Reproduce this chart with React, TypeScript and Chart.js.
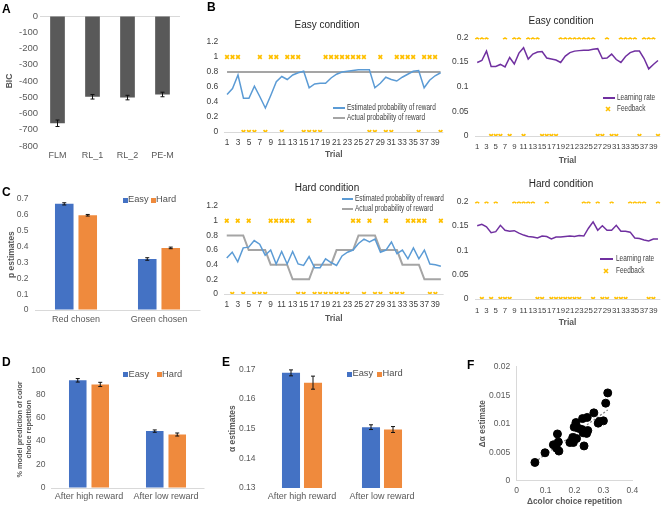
import React, { useEffect, useRef } from "react";
import { Chart, registerables } from "chart.js";
Chart.register(...registerables);

// ---------------- DATA ----------------
const bicModels = ["FLM", "RL_1", "RL_2", "PE-M"];
const bicValues = [-660, -497, -502, -483];
const bicErrors = [20, 14, 14, 14];

const choiceLabels = ["Red chosen", "Green chosen"];
const pEasy = [0.67, 0.322];
const pEasyErr = [0.007, 0.008];
const pHard = [0.598, 0.392];
const pHardErr = [0.005, 0.005];

const rewardLabels = ["After high reward", "After low reward"];
const repEasy = [91.8, 48.5];
const repEasyErr = [1.5, 1.0];
const repHard = [88.3, 45.6];
const repHardErr = [1.8, 1.3];

const alphaEasy = [0.1688, 0.1505];
const alphaEasyErr = [0.001, 0.0008];
const alphaHard = [0.1655, 0.1497];
const alphaHardErr = [0.0022, 0.001];

const trialLabels = ["1","2","3","4","5","6","7","8","9","10","11","12","13","14","15","16","17","18","19","20",
  "21","22","23","24","25","26","27","28","29","30","31","32","33","34","35","36","37","38","39","40"];

const estEasy = [0.50,0.58,0.76,0.45,0.45,0.61,0.47,0.32,0.49,0.67,0.74,0.70,0.76,0.79,0.81,0.59,0.64,0.65,0.65,0.72,
  0.77,0.80,0.81,0.82,0.83,0.83,0.83,0.59,0.65,0.73,0.70,0.68,0.73,0.77,0.81,0.82,0.59,0.69,0.75,0.79];
const actualEasy = [0.8,0.8,0.8,0.8,0.8,0.8,0.8,0.8,0.8,0.8,0.8,0.8,0.8,0.8,0.8,0.8,0.8,0.8,0.8,0.8,
  0.8,0.8,0.8,0.8,0.8,0.8,0.8,0.8,0.8,0.8,0.8,0.8,0.8,0.8,0.8,0.8,0.8,0.8,0.8,0.8];
const feedbackEasy = [1,1,1,0,0,0,1,0,1,1,0,1,1,1,0,0,0,0,1,1,1,1,1,1,1,1,0,0,1,0,0,1,1,1,1,0,1,1,1,0];
const lrEasy = [0.149,0.153,0.172,0.141,0.141,0.145,0.140,0.159,0.146,0.168,0.179,0.156,0.166,0.170,0.171,0.158,0.156,0.154,0.149,0.162,
  0.169,0.172,0.173,0.174,0.174,0.176,0.177,0.157,0.158,0.166,0.155,0.149,0.161,0.169,0.172,0.172,0.157,0.136,0.145,0.153];

const estHard = [0.49,0.57,0.44,0.63,0.64,0.73,0.68,0.53,0.60,0.41,0.58,0.41,0.58,0.41,0.39,0.51,0.36,0.36,0.48,0.43,
  0.39,0.52,0.57,0.60,0.69,0.75,0.71,0.75,0.57,0.60,0.71,0.55,0.60,0.48,0.63,0.48,0.60,0.41,0.40,0.38];
const actualHard = [0.8,0.8,0.8,0.8,0.6,0.6,0.6,0.6,0.4,0.4,0.4,0.4,0.2,0.2,0.2,0.2,0.4,0.4,0.4,0.4,
  0.6,0.6,0.6,0.6,0.8,0.8,0.8,0.8,0.6,0.6,0.6,0.6,0.4,0.4,0.4,0.4,0.2,0.2,0.2,0.2];
const feedbackHard = [1,0,1,0,1,0,0,0,1,1,1,1,1,0,0,1,0,0,0,0,0,0,0,1,1,0,1,0,0,1,0,0,0,1,1,1,1,0,0,1];
const lrHard = [0.150,0.153,0.148,0.136,0.138,0.151,0.141,0.139,0.140,0.135,0.131,0.128,0.127,0.125,0.129,0.128,0.123,0.127,0.127,0.128,
  0.129,0.128,0.130,0.129,0.145,0.158,0.141,0.150,0.141,0.141,0.151,0.139,0.139,0.137,0.125,0.124,0.121,0.119,0.123,0.123];

const deltaRep = [0.063,0.098,0.127,0.138,0.141,0.144,0.146,0.184,0.194,0.196,0.199,0.205,0.207,0.213,0.225,0.228,0.230,0.233,0.242,0.246,0.244,0.267,0.282,0.286,0.300,0.308,0.315];
const deltaAlpha = [0.0032,0.0049,0.0063,0.0057,0.0082,0.0068,0.0052,0.0067,0.0076,0.0067,0.0094,0.0102,0.0074,0.0092,0.0090,0.0109,0.0084,0.0061,0.0083,0.0088,0.0111,0.0119,0.0101,0.0104,0.0105,0.0136,0.0154];

// ---------------- STYLE ----------------
const FAM = "'Liberation Sans', Arial, sans-serif";
const GRAY_TXT = "#595959";
const DARK_TXT = "#404040";
const BLUE_BAR = "#4472C4";
const ORANGE_BAR = "#EF8A3D";
const BLUE_LINE = "#5B9BD5";
const GRAY_LINE = "#A5A5A5";
const PURPLE = "#7030A0";
const GOLD = "#FFC000";
const AXIS_LINE = "#D9D9D9";

Chart.defaults.font.family = FAM;
Chart.defaults.color = GRAY_TXT;

const fmt = (v: any) => String(+Number(v).toFixed(4));
const zeroGrid = (c: any) => (c.tick && c.tick.value === 0 ? AXIS_LINE : "rgba(0,0,0,0)");

const errorBarPlugin = {
  id: "errorBars",
  afterDatasetsDraw(chart: any) {
    const ctx = chart.ctx;
    chart.data.datasets.forEach((ds: any, di: number) => {
      if (!ds.errors) return;
      const meta = chart.getDatasetMeta(di);
      const yScale = chart.scales[meta.yAxisID];
      ctx.save();
      ctx.strokeStyle = "#111";
      ctx.lineWidth = 1;
      meta.data.forEach((el: any, i: number) => {
        const v = ds.data[i];
        const e = ds.errors[i];
        const y1 = yScale.getPixelForValue(v + e);
        const y2 = yScale.getPixelForValue(v - e);
        const x = el.x;
        ctx.beginPath();
        ctx.moveTo(x, y1); ctx.lineTo(x, y2);
        ctx.moveTo(x - 2, y1); ctx.lineTo(x + 2, y1);
        ctx.moveTo(x - 2, y2); ctx.lineTo(x + 2, y2);
        ctx.stroke();
      });
      ctx.restore();
    });
  },
};

type Plot = { l: number; t: number; r: number; b: number };

function baseOptions(w: number, h: number, p: Plot) {
  return {
    responsive: false,
    animation: false as const,
    layout: { padding: { left: 0, top: p.t, right: w - p.r, bottom: 0 } },
    plugins: { legend: { display: false }, tooltip: { enabled: false }, title: { display: false } },
  };
}

function barChart(w: number, h: number, p: Plot, labels: string[], datasets: any[], y: any, xFont: number, xPad: number) {
  return {
    type: "bar",
    data: { labels, datasets },
    options: {
      ...baseOptions(w, h, p),
      scales: {
        x: {
          grid: { display: false, drawTicks: false },
          border: { display: false },
          ticks: { font: { size: xFont }, color: GRAY_TXT, padding: xPad, maxRotation: 0, autoSkip: false },
          afterFit: (s: any) => { s.height = h - p.b; },
        },
        y: {
          ...y,
          grid: { drawTicks: false, color: zeroGrid },
          border: { display: false },
          afterFit: (s: any) => { s.width = p.l; },
        },
      },
    },
    plugins: [errorBarPlugin],
  };
}

function trialChart(w: number, h: number, p: Plot, yMax: number, yStep: number, yPad: number,
  lines: any[], fb: number[], fbLevel: number, xPad: number, titlePad: number, xFont: number) {
  const datasets = [
    {
      data: fb.map((f) => f * fbLevel),
      showLine: false,
      pointStyle: "crossRot",
      pointRadius: 2.6,
      pointBorderWidth: 1.7,
      pointBorderColor: GOLD,
      pointBackgroundColor: GOLD,
      borderColor: GOLD,
      order: 0,
    },
    ...lines.map((l, i) => ({
      data: l.data,
      borderColor: l.color,
      borderWidth: l.width,
      pointRadius: 0,
      tension: 0,
      fill: false,
      order: i + 1,
    })),
  ];
  return {
    type: "line",
    data: { labels: trialLabels, datasets },
    options: {
      ...baseOptions(w, h, p),
      scales: {
        x: {
          offset: true,
          grid: { display: false, drawTicks: false },
          border: { display: false },
          ticks: {
            font: { size: xFont }, color: DARK_TXT, padding: xPad, maxRotation: 0, minRotation: 0, autoSkip: false,
            callback: function (this: any, v: any, i: number) { return i % 2 === 0 ? trialLabels[i] : ""; },
          },
          title: { display: true, text: "Trial", font: { size: 8.5, weight: "bold" }, color: GRAY_TXT, padding: { top: 0, bottom: titlePad } },
          afterFit: (s: any) => { s.height = h - p.b; },
        },
        y: {
          min: 0, max: yMax,
          ticks: { stepSize: yStep, font: { size: 8.5 }, color: DARK_TXT, padding: yPad, callback: fmt },
          grid: { drawTicks: false, color: zeroGrid },
          border: { display: false },
          afterFit: (s: any) => { s.width = p.l; },
        },
      },
    },
  };
}

function linReg(xs: number[], ys: number[]) {
  const n = xs.length;
  const mx = xs.reduce((a, b) => a + b, 0) / n;
  const my = ys.reduce((a, b) => a + b, 0) / n;
  let sxy = 0, sxx = 0;
  for (let i = 0; i < n; i++) { sxy += (xs[i] - mx) * (ys[i] - my); sxx += (xs[i] - mx) ** 2; }
  const slope = sxy / sxx;
  return { slope, intercept: my - slope * mx };
}

// ---------------- CONFIGS ----------------
const configs: { x: number; y: number; w: number; h: number; make: () => any }[] = [
  // A
  {
    x: 0, y: 0, w: 190, h: 170,
    make: () => barChart(190, 170, { l: 40, t: 16, r: 180, b: 146 }, bicModels,
      [{ data: bicValues, errors: bicErrors, backgroundColor: "#595959", barPercentage: 0.42, categoryPercentage: 1 }],
      {
        min: -800, max: 0,
        ticks: { stepSize: 100, font: { size: 9.5 }, color: GRAY_TXT, padding: 2, callback: fmt },
        title: { display: true, text: "BIC", font: { size: 8.5, weight: "bold" }, color: GRAY_TXT, padding: { top: 5, bottom: 0 } },
      }, 9, 4),
  },
  // C
  {
    x: 0, y: 188, w: 205, h: 145,
    make: () => barChart(205, 145, { l: 34.5, t: 8, r: 200.5, b: 122 }, choiceLabels,
      [
        { label: "Easy", data: pEasy, errors: pEasyErr, backgroundColor: BLUE_BAR, barPercentage: 0.79, categoryPercentage: 0.566 },
        { label: "Hard", data: pHard, errors: pHardErr, backgroundColor: ORANGE_BAR, barPercentage: 0.79, categoryPercentage: 0.566 },
      ],
      {
        min: 0, max: 0.7,
        ticks: { stepSize: 0.1, font: { size: 8.5 }, color: GRAY_TXT, padding: 6, callback: fmt },
        title: { display: true, text: "p estimates", font: { size: 8.5, weight: "bold" }, color: GRAY_TXT, padding: { top: 7, bottom: 0 } },
      }, 9, 4.6),
  },
  // D
  {
    x: 0, y: 340, w: 210, h: 169,
    make: () => barChart(210, 169, { l: 50.5, t: 30.7, r: 204.5, b: 148 }, rewardLabels,
      [
        { label: "Easy", data: repEasy, errors: repEasyErr, backgroundColor: BLUE_BAR, barPercentage: 0.78, categoryPercentage: 0.584 },
        { label: "Hard", data: repHard, errors: repHardErr, backgroundColor: ORANGE_BAR, barPercentage: 0.78, categoryPercentage: 0.584 },
      ],
      {
        min: 0, max: 100,
        ticks: { stepSize: 10, font: { size: 8.5 }, color: GRAY_TXT, padding: 5, callback: fmt },
        title: {
          display: true, text: ["% model prediction of color", "choice repetition"],
          font: { size: 7.3, weight: "bold" }, color: GRAY_TXT, padding: { top: 15.5, bottom: 0 },
        },
      }, 9, 3.6),
  },
  // E
  {
    x: 220, y: 340, w: 210, h: 169,
    make: () => barChart(210, 169, { l: 42, t: 29.3, r: 202, b: 148 }, rewardLabels,
      [
        { label: "Easy", data: alphaEasy, errors: alphaEasyErr, backgroundColor: BLUE_BAR, barPercentage: 0.82, categoryPercentage: 0.55 },
        { label: "Hard", data: alphaHard, errors: alphaHardErr, backgroundColor: ORANGE_BAR, barPercentage: 0.82, categoryPercentage: 0.55 },
      ],
      {
        min: 0.13, max: 0.17,
        ticks: { stepSize: 0.01, font: { size: 8.5 }, color: GRAY_TXT, padding: 6.5, callback: (v: any) => Number(v).toFixed(2) },
        title: { display: true, text: "α estimates", font: { size: 8.5, weight: "bold" }, color: GRAY_TXT, padding: { top: 8, bottom: 0 } },
      }, 9, 3.6),
  },
  // F
  {
    x: 440, y: 340, w: 226, h: 169,
    make: () => {
      const w = 226, h = 169, p = { l: 76.7, t: 26.7, r: 192.3, b: 140.7 };
      const { slope, intercept } = linReg(deltaRep, deltaAlpha);
      const xmin = Math.min(...deltaRep), xmax = Math.max(...deltaRep);
      return {
        type: "scatter",
        data: {
          datasets: [
            {
              data: deltaRep.map((x, i) => ({ x, y: deltaAlpha[i] })),
              pointRadius: 4, backgroundColor: "#000", borderColor: "#000", order: 0,
            },
            {
              type: "line",
              data: [{ x: xmin, y: intercept + slope * xmin }, { x: xmax, y: intercept + slope * xmax }],
              borderColor: "#7F7F7F", borderWidth: 1.2, borderDash: [2, 2], pointRadius: 0, showLine: true, order: 1,
            },
          ],
        },
        options: {
          ...baseOptions(w, h, p),
          scales: {
            x: {
              type: "linear", min: 0, max: 0.4,
              ticks: { stepSize: 0.1, font: { size: 8.5 }, color: GRAY_TXT, padding: 5, callback: fmt },
              grid: { drawTicks: false, color: "rgba(0,0,0,0)" },
              border: { display: true, color: AXIS_LINE, width: 1 },
              title: { display: true, text: "Δcolor choice repetition", font: { size: 8.3, weight: "bold" }, color: GRAY_TXT, padding: { top: 0, bottom: 2 } },
              afterFit: (s: any) => { s.height = h - p.b; },
            },
            y: {
              min: 0, max: 0.02,
              ticks: { stepSize: 0.005, font: { size: 8.5 }, color: GRAY_TXT, padding: 6.5, callback: fmt },
              grid: { drawTicks: false, color: "rgba(0,0,0,0)" },
              border: { display: true, color: AXIS_LINE, width: 1 },
              title: { display: true, text: "Δα estimate", font: { size: 8.3, weight: "bold" }, color: GRAY_TXT, padding: { top: 38, bottom: 0 } },
              afterFit: (s: any) => { s.width = p.l; },
            },
          },
        },
      };
    },
  },
  // B easy left
  {
    x: 195, y: 30, w: 255, h: 135,
    make: () => trialChart(255, 135, { l: 29.3, t: 12, r: 248.3, b: 102 }, 1.2, 0.2, 6,
      [{ data: estEasy, color: BLUE_LINE, width: 1.5 }, { data: actualEasy, color: GRAY_LINE, width: 2 }],
      feedbackEasy, 1, 5.9, 4.9, 8.3),
  },
  // B easy right
  {
    x: 440, y: 25, w: 226, h: 145,
    make: () => trialChart(226, 145, { l: 34.9, t: 12.3, r: 223.8, b: 111 }, 0.2, 0.05, 6.3,
      [{ data: lrEasy, color: PURPLE, width: 1.5 }],
      feedbackEasy, 0.2, 6.2, 3.9, 7.8),
  },
  // B hard left
  {
    x: 195, y: 195, w: 255, h: 135,
    make: () => trialChart(255, 135, { l: 29, t: 9.3, r: 248.6, b: 99 }, 1.2, 0.2, 6,
      [{ data: estHard, color: BLUE_LINE, width: 1.5 }, { data: actualHard, color: GRAY_LINE, width: 2 }],
      feedbackHard, 1, 5.9, 5.9, 8.3),
  },
  // B hard right
  {
    x: 440, y: 190, w: 226, h: 140,
    make: () => trialChart(226, 140, { l: 34.9, t: 10, r: 223.8, b: 109 }, 0.2, 0.05, 6.3,
      [{ data: lrHard, color: PURPLE, width: 1.5 }],
      feedbackHard, 0.2, 7.2, 1.9, 7.8),
  },
];

// ---------------- COMPONENTS ----------------
function ChartCanvas({ x, y, w, h, make }: { x: number; y: number; w: number; h: number; make: () => any }) {
  const ref = useRef<HTMLCanvasElement>(null);
  useEffect(() => {
    const chart = new Chart(ref.current as HTMLCanvasElement, make());
    return () => chart.destroy();
  }, []);
  return <canvas ref={ref} width={w} height={h} style={{ position: "absolute", left: x, top: y, width: w, height: h }} />;
}

function Txt({ x, y, size, text, bold, color, center, squeeze }: any) {
  let transform: string | undefined = undefined;
  if (center) transform = "translateX(-50%)";
  if (squeeze) transform = `scaleX(${squeeze})`;
  return (
    <div
      style={{
        position: "absolute", left: x, top: y - size / 2, fontSize: size, lineHeight: `${size}px`,
        fontFamily: FAM, fontWeight: bold ? "bold" : "normal", color: color || GRAY_TXT,
        whiteSpace: "nowrap", transform, transformOrigin: "left center",
      }}
    >
      {text}
    </div>
  );
}

function Letter({ x, capTop, text }: any) {
  return (
    <div style={{ position: "absolute", left: x, top: capTop - 1.6, fontSize: 12, lineHeight: "12px", fontFamily: FAM, fontWeight: "bold", color: "#000" }}>
      {text}
    </div>
  );
}

function Swatch({ x, y, color }: any) {
  return <div style={{ position: "absolute", left: x, top: y - 2.5, width: 5, height: 5, background: color }} />;
}

function LineSwatch({ x1, x2, y, color, width }: any) {
  return <div style={{ position: "absolute", left: x1, top: y - width / 2, width: x2 - x1, height: width, background: color }} />;
}

function XMark({ x, y }: any) {
  return (
    <svg style={{ position: "absolute", left: x - 3, top: y - 3 }} width={6} height={6}>
      <path d="M1,1 L5,5 M5,1 L1,5" stroke={GOLD} strokeWidth={1.6} />
    </svg>
  );
}

function BarLegend({ ex, hx, y, hsx }: any) {
  return (
    <>
      <Swatch x={ex} y={y} color={BLUE_BAR} />
      <Txt x={ex + 5.5} y={y} size={9.3} text="Easy" color="#505050" />
      <Swatch x={hsx} y={y} color={ORANGE_BAR} />
      <Txt x={hx} y={y} size={9.3} text="Hard" color="#505050" />
    </>
  );
}

const LEG_SIZE = 8.2;
const LEG_SQ = 0.79;

function ProbLegend({ x1, x2, tx, y1, y2 }: any) {
  return (
    <>
      <LineSwatch x1={x1} x2={x2} y={y1} color={BLUE_LINE} width={1.5} />
      <Txt x={tx} y={y1} size={LEG_SIZE} squeeze={LEG_SQ} color={DARK_TXT} text="Estimated probability of reward" />
      <LineSwatch x1={x1} x2={x2} y={y2} color={GRAY_LINE} width={2} />
      <Txt x={tx} y={y2} size={LEG_SIZE} squeeze={LEG_SQ} color={DARK_TXT} text="Actual probability of reward" />
    </>
  );
}

function LRLegend({ x1, x2, tx, y1, y2, mx }: any) {
  return (
    <>
      <LineSwatch x1={x1} x2={x2} y={y1} color={PURPLE} width={1.5} />
      <Txt x={tx} y={y1} size={LEG_SIZE} squeeze={LEG_SQ} color={DARK_TXT} text="Learning rate" />
      <XMark x={mx} y={y2} />
      <Txt x={tx} y={y2} size={LEG_SIZE} squeeze={LEG_SQ} color={DARK_TXT} text="Feedback" />
    </>
  );
}

export default function App() {
  return (
    <div style={{ position: "absolute", left: 0, top: 0, width: 666, height: 509, background: "#fff", overflow: "hidden" }}>
      {configs.map((c, i) => (
        <ChartCanvas key={i} {...c} />
      ))}
      <Letter x={2} capTop={5} text="A" />
      <Letter x={207} capTop={3} text="B" />
      <Letter x={2} capTop={188} text="C" />
      <Letter x={2} capTop={358} text="D" />
      <Letter x={222} capTop={358} text="E" />
      <Letter x={467} capTop={361} text="F" />

      <Txt x={327} y={25} size={10} center color="#262626" text="Easy condition" />
      <Txt x={561} y={21} size={10} center color="#262626" text="Easy condition" />
      <Txt x={327} y={188} size={10} center color="#262626" text="Hard condition" />
      <Txt x={561} y={184} size={10} center color="#262626" text="Hard condition" />

      <BarLegend ex={122.5} y={200} hsx={150.5} hx={156} />
      <BarLegend ex={123} y={374.3} hsx={156.5} hx={162} />
      <BarLegend ex={347} y={374} hsx={377} hx={382.5} />

      <ProbLegend x1={333} x2={345} tx={347} y1={108} y2={118} />
      <ProbLegend x1={342} x2={353} tx={355} y1={199} y2={209} />
      <LRLegend x1={603} x2={615} tx={617} y1={98} y2={109} mx={608} />
      <LRLegend x1={600} x2={613} tx={616} y1={259} y2={271} mx={606} />
    </div>
  );
}
